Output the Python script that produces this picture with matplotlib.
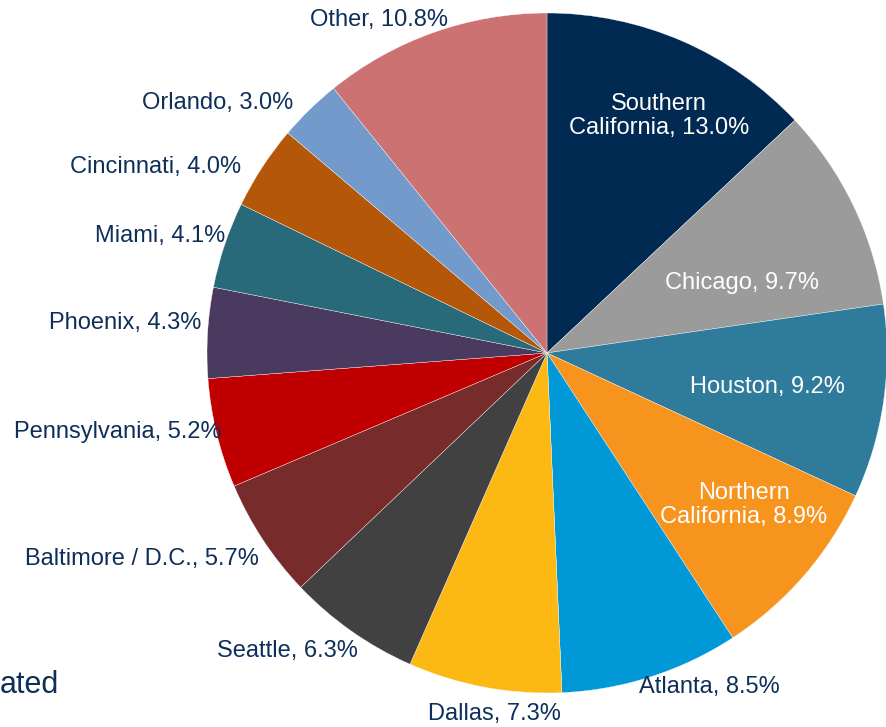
import matplotlib
matplotlib.use("Agg")
import matplotlib.pyplot as plt

# share of total by market, clockwise from 12 o'clock
MARKETS = ["Southern\nCalifornia", "Chicago", "Houston", "Northern\nCalifornia",
           "Atlanta", "Dallas", "Seattle", "Baltimore / D.C.", "Pennsylvania",
           "Phoenix", "Miami", "Cincinnati", "Orlando", "Other"]
SHARE_PCT = [13.0, 9.7, 9.2, 8.9, 8.5, 7.3, 6.3, 5.7, 5.2, 4.3, 4.1, 4.0, 3.0, 10.8]

COLORS = ["#002a52", "#9b9b9b", "#2e7b9b", "#f7941d", "#0098d6", "#fdb913",
          "#414141", "#772b2b", "#c00000", "#4b3a5f", "#286a7a", "#b55708",
          "#729acb", "#cc7272"]
INSIDE = 4                 # first four labels sit inside the wedge in white
TXT = "#0e2f5a"

# label centres, image pixels (x from left, y from top)
LABEL_POS = [(659, 116), (742, 283), (767, 387), (744, 505), (709, 687),
             (494, 714), (287, 651), (142, 559), (118, 432), (125, 323),
             (160, 236), (156, 167), (218, 103), (379, 20)]

W, H = 887, 727
CX, CY, R = 547, 353, 340

fig = plt.figure(figsize=(W / 100, H / 100), dpi=100)
ax = fig.add_axes([0, 0, 1, 1])
ax.axis("off")

ax.pie(SHARE_PCT, colors=COLORS, startangle=90, counterclock=False,
       center=(CX, H - CY), radius=R,
       wedgeprops={"edgecolor": "white", "linewidth": 0.25})
ax.set_xlim(0, W)
ax.set_ylim(0, H)
ax.set_aspect("equal")

for i, (name, pct) in enumerate(zip(MARKETS, SHARE_PCT)):
    x, y = LABEL_POS[i]
    ax.text(x, H - y, f"{name}, {pct:.1f}%", ha="center", va="center",
            fontsize=17, family=["Liberation Sans", "DejaVu Sans"],
            color="white" if i < INSIDE else TXT, linespacing=1.1)

ax.text(0, H - 685, "ated", ha="left", va="center", fontsize=22,
        family=["Liberation Sans", "DejaVu Sans"], color=TXT)

fig.savefig("out.png", dpi=100)
